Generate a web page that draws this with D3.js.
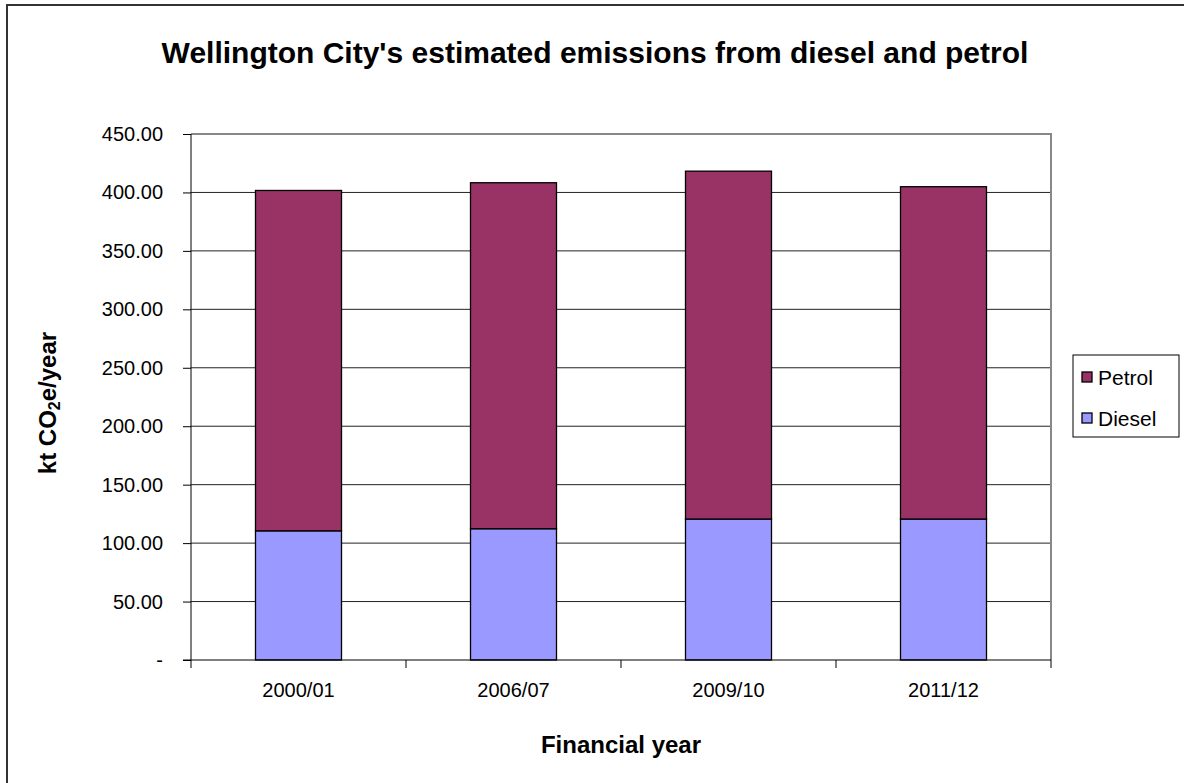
<!DOCTYPE html>
<html>
<head>
<meta charset="utf-8">
<script src="https://cdn.jsdelivr.net/npm/d3@7"></script>
<style>
    body { margin: 0; background: white; }
    svg { display: block; font-family: "Liberation Sans", Arial, sans-serif; }
</style>
</head>
<body>
<div id="chart"></div>
<script>
// data
const years = ["2000/01", "2006/07", "2009/10", "2011/12"];
const diesel = [110.5, 112.3, 120.6, 120.6];
const petrol = [291.2, 296.0, 297.6, 284.3];
const seriesNames = ["Diesel", "Petrol"];
const yTicks = [0, 50, 100, 150, 200, 250, 300, 350, 400, 450];

const width = 1184;
const height = 783;

const margin = { top: 134, right: 133, bottom: 123, left: 191 };
const innerWidth = width - margin.left - margin.right;
const innerHeight = height - margin.top - margin.bottom;

const colors = { Diesel: "#9999ff", Petrol: "#993366" };

const rows = years.map((y, i) => ({ year: y, Diesel: diesel[i], Petrol: petrol[i] }));
const stacked = d3.stack().keys(seriesNames)(rows);

const svg = d3.select("#chart").append("svg")
    .attr("width", width)
    .attr("height", height);

// outer chart border (right and bottom edges fall outside the picture)
svg.append("path")
    .attr("d", `M7,${height}V5H${width}`)
    .attr("fill", "none")
    .attr("stroke", "#333")
    .attr("stroke-width", 2);

const chart = svg.append("g")
    .attr("transform", `translate(${margin.left},${margin.top})`);

// scales
const x = d3.scaleBand()
    .domain(years)
    .range([0, innerWidth])
    .paddingInner(0.6)
    .paddingOuter(0.3);

const xBand = d3.scaleBand()
    .domain(years)
    .range([0, innerWidth]);

const y = d3.scaleLinear()
    .domain([0, 450])
    .range([innerHeight, 0]);

// gridlines
chart.append("g")
    .selectAll("line")
    .data(yTicks.slice(1, -1))
    .join("line")
    .attr("x1", 0)
    .attr("x2", innerWidth)
    .attr("y1", d => y(d))
    .attr("y2", d => y(d))
    .attr("stroke", "#222")
    .attr("stroke-width", 1);

// plot frame top + right (grey)
chart.append("path")
    .attr("d", `M0,${y(450)}H${innerWidth}V${innerHeight}`)
    .attr("fill", "none")
    .attr("stroke", "#888")
    .attr("stroke-width", 2);

// bars
chart.selectAll(".layer")
    .data(stacked)
    .join("g")
    .attr("fill", d => colors[d.key])
    .selectAll("rect")
    .data(d => d)
    .join("rect")
    .attr("x", d => x(d.data.year))
    .attr("y", d => y(d[1]))
    .attr("width", x.bandwidth())
    .attr("height", d => y(d[0]) - y(d[1]))
    .attr("stroke", "black")
    .attr("stroke-width", 1.3);

// y axis (ticks and line only, labels drawn below)
const yAxis = d3.axisLeft(y)
    .tickValues(yTicks)
    .tickSize(8)
    .tickFormat("");

chart.append("g")
    .call(yAxis)
    .call(g => g.selectAll("line").attr("stroke", "black"))
    .call(g => g.select(".domain").attr("stroke", "black").attr("d", `M0,0V${innerHeight}`));

svg.append("g")
    .selectAll("text")
    .data(yTicks)
    .join("text")
    .attr("x", margin.left - 28)
    .attr("y", d => margin.top + y(d))
    .attr("dy", "0.35em")
    .attr("text-anchor", "end")
    .style("font-size", "20px")
    .text(d => d === 0 ? "-" : d3.format(".2f")(d));

// x axis: ticks between categories
const xAxisG = chart.append("g")
    .attr("transform", `translate(0,${innerHeight})`);

xAxisG.append("line")
    .attr("x1", -8)
    .attr("x2", innerWidth)
    .attr("stroke", "black");

xAxisG.selectAll(".sep")
    .data(years.concat(["end"]))
    .join("line")
    .attr("x1", (d, i) => i < years.length ? xBand(d) : innerWidth)
    .attr("x2", (d, i) => i < years.length ? xBand(d) : innerWidth)
    .attr("y1", 0)
    .attr("y2", 8)
    .attr("stroke", "black");

xAxisG.selectAll(".lbl")
    .data(years)
    .join("text")
    .attr("x", d => xBand(d) + xBand.bandwidth() / 2)
    .attr("y", 37)
    .attr("text-anchor", "middle")
    .style("font-size", "20px")
    .text(d => d);

// axis titles
svg.append("text")
    .attr("x", margin.left + innerWidth / 2)
    .attr("y", 753)
    .attr("text-anchor", "middle")
    .style("font-size", "24px")
    .style("font-weight", "bold")
    .text("Financial year");

const yTitleX = 56;
const yTitleY = margin.top + innerHeight / 2 + 6;

const yTitle = svg.append("text")
    .attr("x", yTitleX)
    .attr("y", yTitleY)
    .attr("transform", `rotate(-90,${yTitleX},${yTitleY})`)
    .attr("text-anchor", "middle")
    .style("font-size", "24px")
    .style("font-weight", "bold");
yTitle.append("tspan").text("kt CO");
yTitle.append("tspan").attr("dy", 4).style("font-size", "16px").text("2");
yTitle.append("tspan").attr("dy", -4).text("e/year");

// title
svg.append("text")
    .attr("x", 595)
    .attr("y", 63)
    .attr("text-anchor", "middle")
    .style("font-size", "30px")
    .style("font-weight", "bold")
    .text("Wellington City's estimated emissions from diesel and petrol");

// legend
const legend = svg.append("g")
    .attr("transform", "translate(1073,355)");

legend.append("rect")
    .attr("width", 106)
    .attr("height", 82)
    .attr("fill", "white")
    .attr("stroke", "black")
    .attr("stroke-width", 1);

const legendItems = ["Petrol", "Diesel"];

legend.selectAll(".sw")
    .data(legendItems)
    .join("rect")
    .attr("x", 9)
    .attr("y", (d, i) => 17 + i * 41)
    .attr("width", 10)
    .attr("height", 10)
    .attr("fill", d => colors[d])
    .attr("stroke", "black")
    .attr("stroke-width", 1.3);

legend.selectAll(".lt")
    .data(legendItems)
    .join("text")
    .attr("x", 25)
    .attr("y", (d, i) => 30 + i * 41)
    .style("font-size", "21px")
    .text(d => d);
</script>
</body>
</html>
